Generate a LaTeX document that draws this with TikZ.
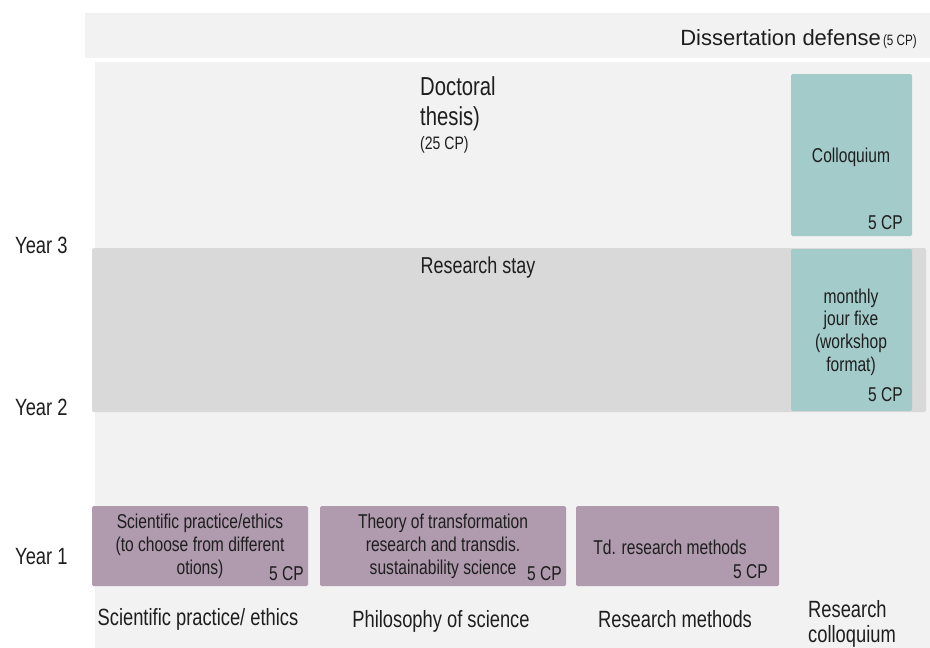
\documentclass[tikz,border=0pt]{standalone}
\usepackage{fontspec}
\setmainfont{Liberation Sans}[FakeStretch=0.78]
\newfontfamily\widefont{Liberation Sans}
\usetikzlibrary{positioning}
\definecolor{panel}{RGB}{242,242,242}
\definecolor{stay}{RGB}{217,217,217}
\definecolor{colloq}{RGB}{162,203,201}
\definecolor{module}{RGB}{176,154,174}
\definecolor{ink}{RGB}{30,30,30}
\newcommand{\boxfont}{\fontsize{20}{23}\selectfont}
\newcommand{\labelfont}{\fontsize{23.5}{26}\selectfont}
\tikzstyle{band}=[draw=none, inner sep=0, outer sep=0, anchor=north west]
\tikzstyle{modbox}=[band, fill=module, rounded corners=1.5pt]
\tikzstyle{colbox}=[band, fill=colloq, rounded corners=1.5pt]
\tikzstyle{txt}=[inner sep=0, text=ink]

\begin{document}
\begin{tikzpicture}[x=1pt,y=-1pt]
  \useasboundingbox (0,0) rectangle (930,648);
  %% backgrounds
  \draw (85,13) node[band,fill=panel,minimum width=845,minimum height=45] (defense) {};
  \draw (95,62) node[band,fill=panel,minimum width=835,minimum height=586] (panel) {};
  \draw (92,248) node[band,fill=stay,rounded corners=1.5pt,minimum width=834,minimum height=164] (stay) {};

  %% year 3
  \draw (917,45) node[txt,anchor=base east] (defensetxt) {{\widefont\fontsize{22}{26}\selectfont Dissertation defense} {\fontsize{15}{17}\selectfont(5 CP)}};
  \draw (420,125) node[txt,anchor=base west,align=left,font=\fontsize{26}{29.5}\selectfont] (thesis) {Doctoral\\thesis)};
  \draw (420,149) node[txt,anchor=base west,font=\fontsize{18}{20}\selectfont] (thesiscp) {(25 CP)};
  \draw (791,74) node[colbox,minimum width=121,minimum height=162] (colloquium) {};
  \draw (851,157) node[txt,font=\boxfont] (colloquiumtxt) {Colloquium};
  \draw (903,229) node[txt,anchor=base east,font=\boxfont] (colloquiumcp) {5 CP};

  %% year 2
  \draw (478,273) node[txt,anchor=base,font=\fontsize{23}{26}\selectfont] (staytxt) {Research stay};
  \draw (791,249) node[colbox,minimum width=121,minimum height=162] (jourfixe) {};
  \draw (851,332) node[txt,align=center,font=\fontsize{20}{22.7}\selectfont] (jourfixetxt) {monthly\\jour fixe\\(workshop\\format)};
  \draw (903,401) node[txt,anchor=base east,font=\boxfont] (jourfixecp) {5 CP};

  %% year 1
  \draw (92,506) node[modbox,minimum width=216,minimum height=80] (ethics) {};
  \draw (200,546) node[txt,align=center,font=\boxfont] (ethicstxt) {Scientific practice/ethics\\(to choose from different\\otions)};
  \draw (304,580) node[txt,anchor=base east,font=\boxfont] (ethicscp) {5 CP};

  \draw (320,506) node[modbox,minimum width=246,minimum height=80] (theory) {};
  \draw (443,546) node[txt,align=center,font=\boxfont] (theorytxt) {Theory of transformation\\research and transdis.\\sustainability science};
  \draw (562,580) node[txt,anchor=base east,font=\boxfont] (theorycp) {5 CP};

  \draw (576,506) node[modbox,minimum width=203,minimum height=80] (methods) {};
  \draw (670,547) node[txt,font=\boxfont] (methodstxt) {Td. research methods};
  \draw (768,578) node[txt,anchor=base east,font=\boxfont] (methodscp) {5 CP};

  %% years
  \draw (15,253) node[txt,anchor=base west,font=\labelfont] (year3) {Year 3};
  \draw (15,415) node[txt,anchor=base west,font=\labelfont] (year2) {Year 2};
  \draw (15,564) node[txt,anchor=base west,font=\labelfont] (year1) {Year 1};

  %% columns
  \draw (198,625) node[txt,anchor=base,font=\labelfont] (col1) {Scientific practice/ ethics};
  \draw (441,627) node[txt,anchor=base,font=\labelfont] (col2) {Philosophy of science};
  \draw (675,627) node[txt,anchor=base,font=\labelfont] (col3) {Research methods};
  \draw (808,642) node[txt,anchor=base west,align=left,font=\fontsize{23.5}{25}\selectfont] (col4) {Research\\colloquium};
\end{tikzpicture}
\end{document}
